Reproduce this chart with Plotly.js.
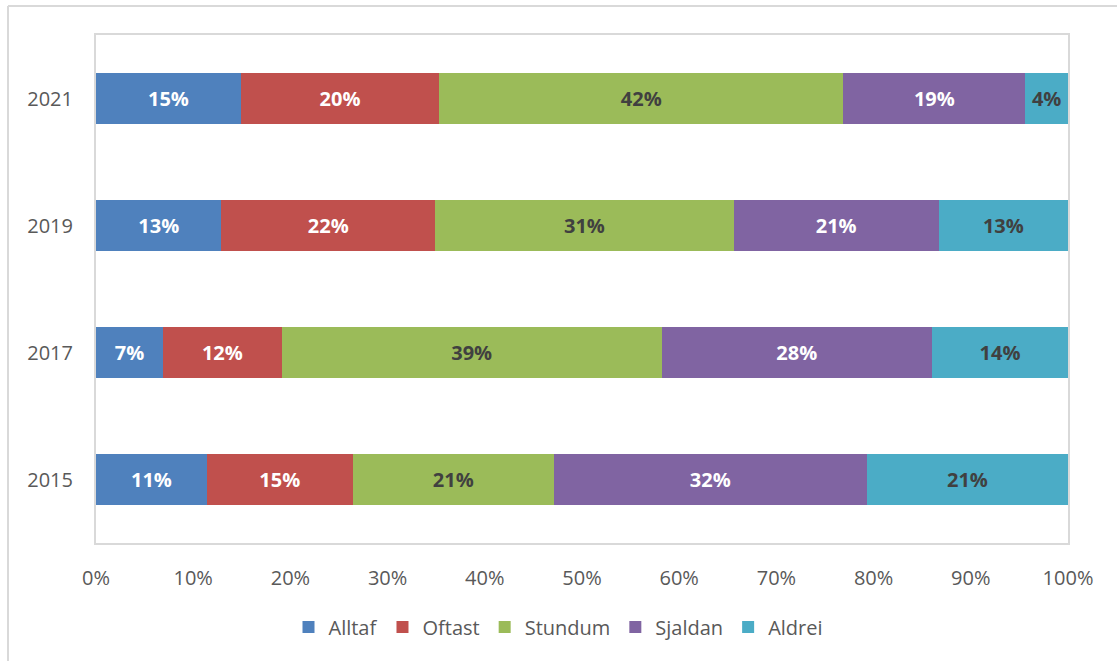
<!DOCTYPE html>
<html>
<head>
<meta charset="utf-8">
<script src="https://cdn.plot.ly/plotly-3.0.1.min.js"></script>
<style>html,body{margin:0;padding:0;background:#fff;}#chart{width:1117px;height:661px;}</style>
</head>
<body>
<div id="chart"></div>
<script>
var years = ["2015", "2017", "2019", "2021"];
var seriesNames = ["Alltaf", "Oftast", "Stundum", "Sjaldan", "Aldrei"];
var alltaf  = [11.4, 6.9, 12.9, 14.9];
var oftast  = [15.0, 12.2, 22.0, 20.4];
var stundum = [20.7, 39.1, 30.7, 41.6];
var sjaldan = [32.2, 27.8, 21.1, 18.7];
var aldrei  = [20.7, 14.0, 13.3, 4.4];
var xTickVals = [0, 10, 20, 30, 40, 50, 60, 70, 80, 90, 100];
var xTickText = ["0%", "10%", "20%", "30%", "40%", "50%", "60%", "70%", "80%", "90%", "100%"];

var seriesValues = [alltaf, oftast, stundum, sjaldan, aldrei];
var colors = ["#4F81BD", "#C0504D", "#9BBB59", "#8064A2", "#4BACC6"];
var textColors = ["#ffffff", "#ffffff", "#404040", "#ffffff", "#404040"];
var FONT = "Open Sans, Liberation Sans, sans-serif";

var data = seriesNames.map(function (name, i) {
  return {
    type: "bar",
    orientation: "h",
    name: name,
    y: years,
    x: seriesValues[i],
    marker: { color: colors[i], line: { width: 0 } },
    text: seriesValues[i].map(function (v) { return Math.round(v) + "%"; }),
    textposition: "inside",
    insidetextanchor: "middle",
    constraintext: "none",
    textfont: { family: FONT, size: 20, color: textColors[i], weight: "bold" },
    hoverinfo: "skip"
  };
});

var plotL = 96, plotR = 1068, plotT = 35, plotB = 543;
var pw = plotR - plotL, ph = plotB - plotT;
function px(x) { return (x - plotL) / pw; }
function py(y) { return (plotB - y) / ph; }

var layout = {
  width: 1117,
  height: 661,
  margin: { l: plotL, r: 1117 - plotR, t: plotT, b: 661 - plotB, pad: 0 },
  paper_bgcolor: "#ffffff",
  plot_bgcolor: "#ffffff",
  barmode: "stack",
  bargap: 0.606,
  showlegend: true,
  font: { family: FONT, size: 20, color: "#595959" },
  xaxis: {
    range: [0, 100],
    tickvals: xTickVals,
    ticktext: xTickText,
    showgrid: false,
    zeroline: false,
    showline: true,
    mirror: true,
    linecolor: "#d9d9d9",
    linewidth: 2,
    ticks: "",
    ticklabelstandoff: 16,
    tickfont: { family: FONT, size: 20, color: "#595959" },
    fixedrange: true
  },
  yaxis: {
    type: "category",
    categoryorder: "array",
    categoryarray: years,
    showgrid: false,
    zeroline: false,
    showline: true,
    mirror: true,
    linecolor: "#d9d9d9",
    linewidth: 2,
    ticks: "",
    ticklabelstandoff: 17,
    tickfont: { family: FONT, size: 20, color: "#595959" },
    fixedrange: true
  },
  legend: {
    orientation: "h",
    traceorder: "normal",
    xref: "container",
    yref: "container",
    x: 0.5,
    xanchor: "center",
    y: 1 - 627 / 661,
    yanchor: "middle",
    font: { family: FONT, size: 20, color: "#595959" },
    itemwidth: 30,
    tracegroupgap: 0,
    itemclick: false,
    itemdoubleclick: false
  },
  shapes: [
    { type: "line", xref: "paper", yref: "paper", x0: px(8), x1: px(8), y0: py(6), y1: py(700), line: { color: "#d9d9d9", width: 2 } },
    { type: "line", xref: "paper", yref: "paper", x0: px(8), x1: px(1200), y0: py(6), y1: py(6), line: { color: "#d9d9d9", width: 2 } }
  ]
};

Plotly.newPlot("chart", data, layout, { displayModeBar: false, staticPlot: true });
</script>
</body>
</html>
